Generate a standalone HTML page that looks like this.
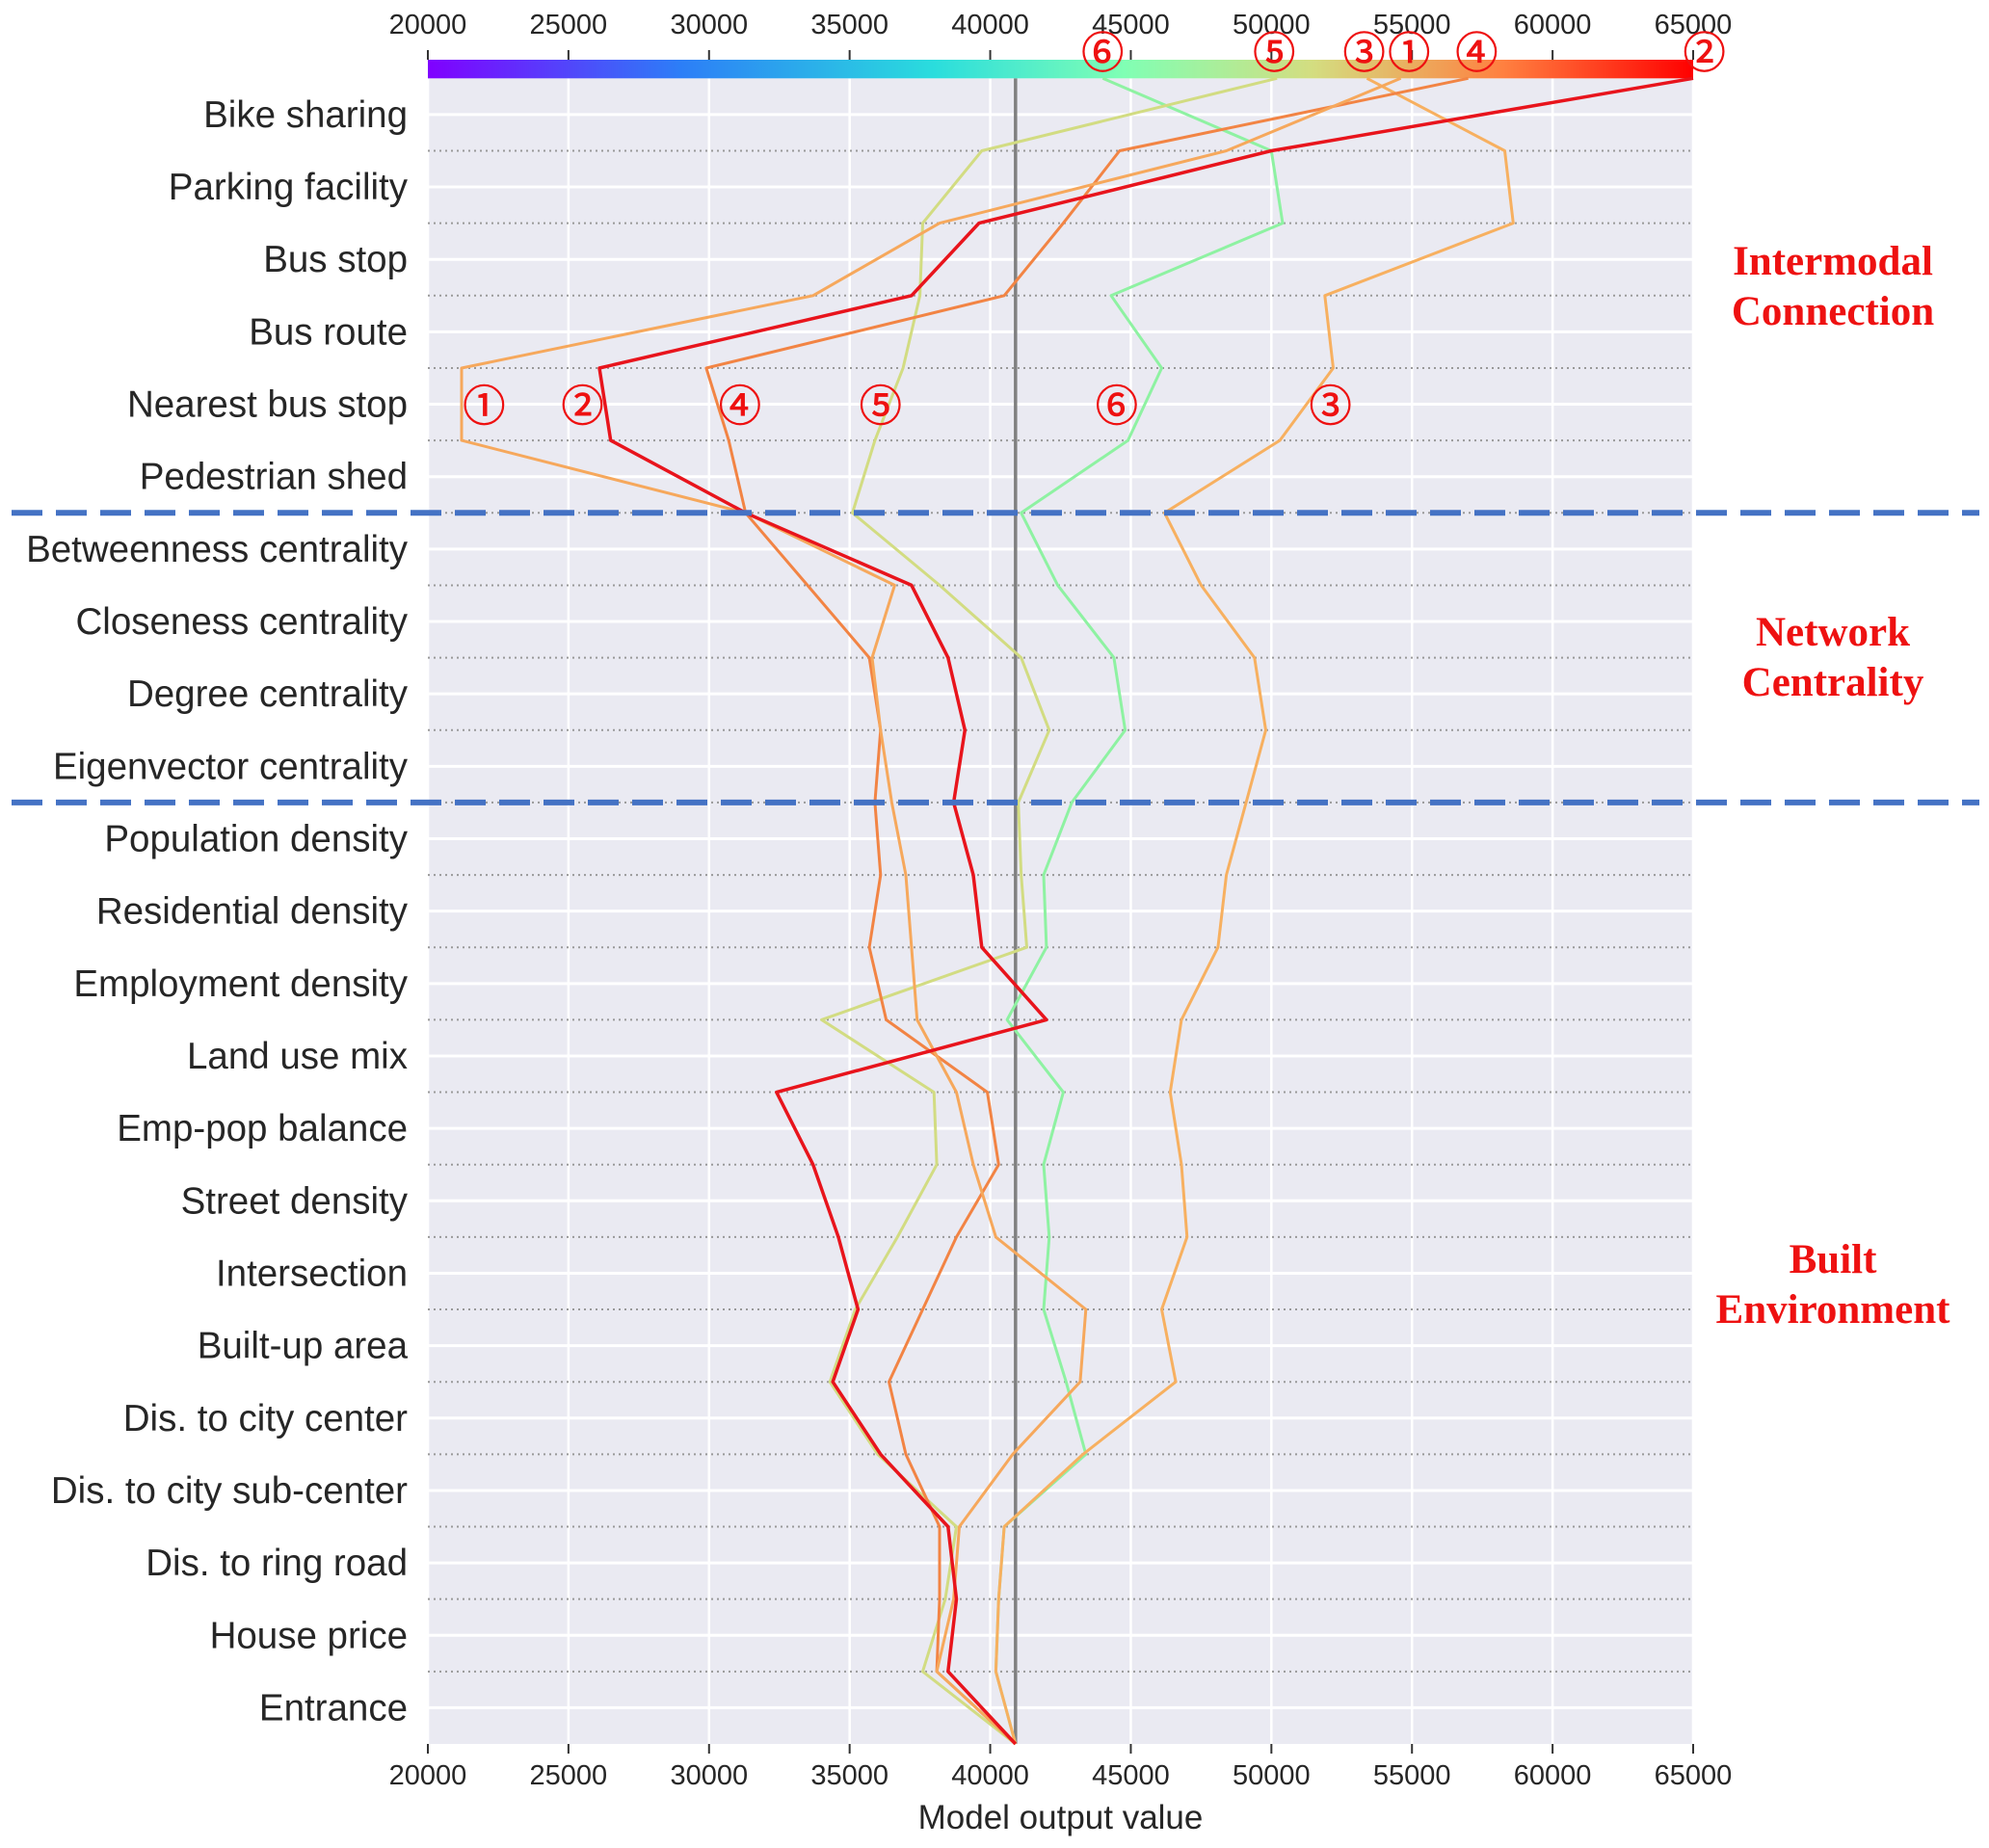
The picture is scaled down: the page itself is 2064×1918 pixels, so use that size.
<!DOCTYPE html>
<html><head><meta charset="utf-8">
<style>
html,body{margin:0;padding:0;background:#fff;}
svg{display:block;font-family:"Liberation Sans","DejaVu Sans",sans-serif;}
</style></head>
<body>
<svg id="chart" width="2064" height="1918" viewBox="0 0 2064 1918" xmlns="http://www.w3.org/2000/svg">
<defs>
<linearGradient id="rainbow" x1="0" x2="1" y1="0" y2="0">
<stop offset="0" stop-color="#8000ff"/>
<stop offset="0.2" stop-color="#2c7ef7"/>
<stop offset="0.4" stop-color="#2adddd"/>
<stop offset="0.55" stop-color="#80ffb4"/>
<stop offset="0.7" stop-color="#d4dd80"/>
<stop offset="0.85" stop-color="#ff8040"/>
<stop offset="1" stop-color="#ff0000"/>
</linearGradient>
</defs>
<g id="plot"></g>
</svg>
<script>
const features = ["Bike sharing","Parking facility","Bus stop","Bus route","Nearest bus stop","Pedestrian shed","Betweenness centrality","Closeness centrality","Degree centrality","Eigenvector centrality","Population density","Residential density","Employment density","Land use mix","Emp-pop balance","Street density","Intersection","Built-up area","Dis. to city center","Dis. to city sub-center","Dis. to ring road","House price","Entrance"];
const ticks = [20000,25000,30000,35000,40000,45000,50000,55000,60000,65000];
const baseValue = 40900;
// cumulative values from bottom (base) to top (prediction)
const s1 = [40900,38100,38700,38900,40800,43200,43400,40200,39400,38800,37400,37200,37000,36500,36100,35800,36600,31300,21200,21200,33700,38200,48400,54600];
const s2 = [40900,38500,38800,38500,36100,34400,35300,34600,33700,32400,42000,39700,39400,38700,39100,38500,37200,31300,26500,26100,37200,39600,50000,65000];
const s3 = [40900,40200,40300,40500,43300,46600,46100,47000,46800,46400,46800,48100,48400,49100,49800,49400,47500,46200,50300,52200,51900,58600,58300,53400];
const s4 = [40900,38100,38200,38200,37000,36400,37600,38800,40300,39900,36300,35700,36100,35900,36100,35700,33500,31300,30700,29900,40500,42600,44600,57000];
const s5 = [40900,37600,38400,38800,36000,34300,35200,36700,38100,38000,34000,41300,41100,41000,42100,41100,38200,35100,35900,36900,37500,37600,39700,50200];
const s6 = [40900,40200,40300,40500,43400,42700,41900,42100,41900,42600,40600,42000,41900,42900,44800,44400,42400,41100,44900,46100,44300,50400,50000,44000];
const seriesNames = ["①","②","③","④","⑤","⑥"];
const topLabelValues = [54900,65400,53300,57300,50100,44000];
const seriesLabelRow = ["①","②","④","⑤","⑥","③"];
const labelRowValues = [22000,25500,31100,36100,44500,52100];

const NS="http://www.w3.org/2000/svg";
const X0=444, X1=1757, xMin=20000, xMax=65000;
const YB=1810, ROW=75.16, YT=YB-23*ROW;
function xs(v){return X0+(v-xMin)/(xMax-xMin)*(X1-X0);}
function yb(k){return YB-k*ROW;}
function yRow(i){return YT+ROW*(i+0.5);}
const g=document.getElementById('plot');
function mk(tag,attrs,parent){const e=document.createElementNS(NS,tag);for(const k in attrs)e.setAttribute(k,attrs[k]);(parent||g).appendChild(e);return e;}

let e;
e=mk('rect',{x:X0,y:YT,width:X1-X0,height:YB-YT,fill:'#eaeaf2'});


ticks.forEach(t=>{
  e=mk('line',{x1:xs(t),x2:xs(t),y1:YT,y2:YB,stroke:'#fff','stroke-width':2.5});
  
  
});
features.forEach((f,i)=>{
  e=mk('line',{x1:X0,x2:X1,y1:yRow(i),y2:yRow(i),stroke:'#fff','stroke-width':3});
  
  
  e=mk('text',{x:423,y:yRow(i)+13,'text-anchor':'end','font-size':38.5,fill:'#262626'});
  e.textContent=f;
  
  
});
for(let k=1;k<=22;k++){
  e=mk('line',{x1:X0,x2:X1,y1:yb(k),y2:yb(k),stroke:'#999','stroke-width':2,'stroke-dasharray':'2 4'});
  
  
}
// colorbar
e=mk('rect',{x:X0,y:62,width:X1-X0,height:YT-62,fill:'url(#rainbow)'});


ticks.forEach(t=>{
  e=mk('line',{x1:xs(t),x2:xs(t),y1:52,y2:62,stroke:'#333','stroke-width':2});
  
  
  e=mk('text',{x:xs(t),y:35,'text-anchor':'middle','font-size':29,fill:'#262626'});
  e.textContent=t;
  
  
  e=mk('line',{x1:xs(t),x2:xs(t),y1:YB,y2:YB+10,stroke:'#333','stroke-width':2});
  
  
  e=mk('text',{x:xs(t),y:1852,'text-anchor':'middle','font-size':29,fill:'#262626'});
  e.textContent=t;
  
  
});
e=mk('text',{x:(X0+X1)/2,y:1898,'text-anchor':'middle','font-size':35,fill:'#262626'});
e.textContent='Model output value';


// base line
e=mk('line',{x1:xs(baseValue),x2:xs(baseValue),y1:YT,y2:YB,stroke:'#808080','stroke-width':3.5});


// series
const allSeries=[s1,s2,s3,s4,s5,s6];
const colors=['#f6a85c','#e8141c','#f7b060','#f28444','#d2dc82','#8ef2a2'];
const widths=[3,3.5,3,3,3,3];
const order=[5,4,2,3,0,1];
order.forEach(si=>{
  const d=allSeries[si].map((v,k)=>(k?'L':'M')+xs(v).toFixed(1)+','+yb(k).toFixed(1)).join(' ');
  e=mk('path',{d:d,fill:'none',stroke:colors[si],'stroke-width':widths[si],'stroke-linejoin':'round'});
  
  
});
// dashed group separators
[17,13].forEach(k=>{
  e=mk('line',{x1:12,x2:2054,y1:yb(k),y2:yb(k),stroke:'#4472c4','stroke-width':6,'stroke-dasharray':'32 14'});
  
  
});
const circFont='"Noto Sans CJK JP","DejaVu Sans",sans-serif';
// top end labels
seriesNames.forEach((n,si)=>{
  e=mk('text',{x:xs(topLabelValues[si]),y:70,'text-anchor':'middle','font-size':44,fill:'#ee1111',stroke:'#ee1111','stroke-width':0.8,'font-family':circFont});
  e.textContent=n;
  
  
});
seriesLabelRow.forEach((n,i)=>{
  e=mk('text',{x:xs(labelRowValues[i]),y:yRow(4)+17,'text-anchor':'middle','font-size':44,fill:'#ee1111',stroke:'#ee1111','stroke-width':0.8,'font-family':circFont});
  e.textContent=n;
  
  
});
// group titles
const groups=[["Intermodal","Connection",270],["Network","Centrality",655],["Built","Environment",1306]];
groups.forEach(gr=>{
  [0,1].forEach(j=>{
    e=mk('text',{x:1902,y:gr[2]+15+j*52,'text-anchor':'middle','font-size':43,'font-weight':'bold',fill:'#ee1111','font-family':'"Liberation Serif",serif'});
    e.textContent=gr[j];
    
    
  });
});
</script>
</body></html>
